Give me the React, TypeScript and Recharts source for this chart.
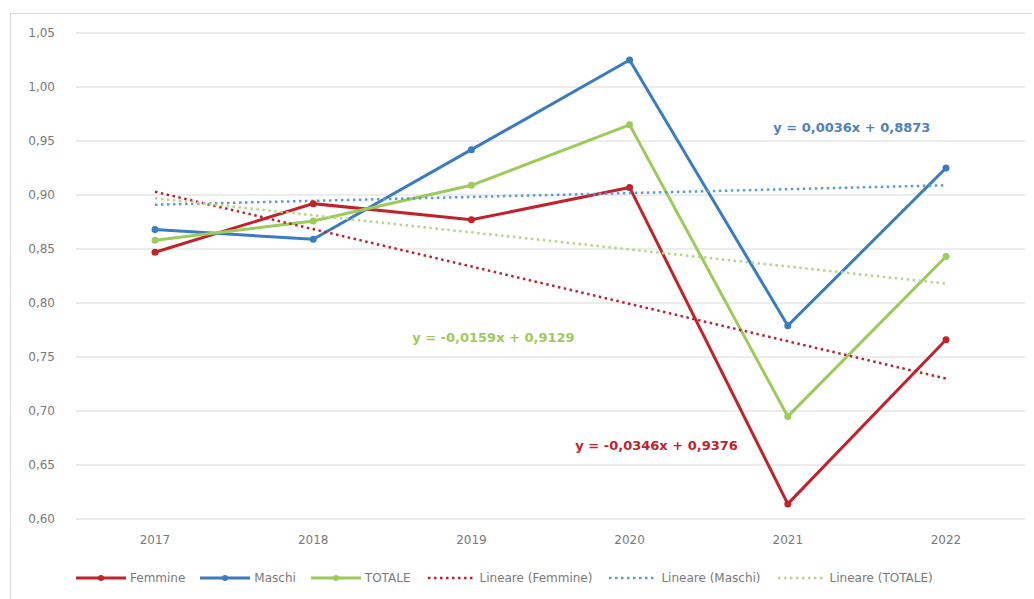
import { LineChart, Line, XAxis, YAxis, ReferenceDot, ReferenceLine } from 'recharts'

const years = ['2017', '2018', '2019', '2020', '2021', '2022']
const femmine = [0.847, 0.892, 0.877, 0.907, 0.614, 0.766]
const maschi = [0.868, 0.859, 0.942, 1.025, 0.779, 0.925]
const totale = [0.858, 0.876, 0.909, 0.965, 0.695, 0.843]

// trend lines: only first and last year, line drawn between them
const trendFemmine = [0.903, null, null, null, null, 0.730]
const trendMaschi = [0.891, null, null, null, null, 0.909]
const trendTotale = [0.897, null, null, null, null, 0.818]

const yTicks = [0.6, 0.65, 0.7, 0.75, 0.8, 0.85, 0.9, 0.95, 1.0, 1.05]

const RED = '#C0232C'
const BLUE = '#3A7CBF'
const GREEN = '#9CCB5C'

const series = [
  { key: 'femmine', name: 'Femmine', color: RED, dotted: false },
  { key: 'maschi', name: 'Maschi', color: BLUE, dotted: false },
  { key: 'totale', name: 'TOTALE', color: GREEN, dotted: false },
  { key: 'trendFemmine', name: 'Lineare (Femmine)', color: '#B5242E', dotted: true },
  { key: 'trendMaschi', name: 'Lineare (Maschi)', color: '#5B9BD5', dotted: true },
  { key: 'trendTotale', name: 'Lineare (TOTALE)', color: '#B5D68A', dotted: true },
]

const data = years.map((year, i) => ({
  year,
  femmine: femmine[i],
  maschi: maschi[i],
  totale: totale[i],
  trendFemmine: trendFemmine[i],
  trendMaschi: trendMaschi[i],
  trendTotale: trendTotale[i],
}))

const FONT = '"DejaVu Sans", sans-serif'
const fmt = (v: number) => v.toFixed(2).replace('.', ',')

const ChartLegend = () => (
  <div
    style={{
      position: 'absolute',
      left: 65,
      top: 555,
      display: 'flex',
      alignItems: 'center',
      height: 18,
      fontFamily: FONT,
      fontSize: 12,
      color: '#7a7a7a',
    }}
  >
    {series.map((s) => (
      <div key={s.key} style={{ display: 'flex', alignItems: 'center', marginRight: 15 }}>
        <svg width={50} height={10} style={{ marginRight: 4 }}>
          {s.dotted ? (
            <line x1={2} y1={5} x2={48} y2={5} stroke={s.color} strokeWidth={2.5} strokeDasharray="2.5 3.5" />
          ) : (
            <>
              <line x1={0} y1={5} x2={50} y2={5} stroke={s.color} strokeWidth={3} />
              <circle cx={25} cy={5} r={3} fill={s.color} />
            </>
          )}
        </svg>
        <span>{s.name}</span>
      </div>
    ))}
  </div>
)

const eqLabel = (text: string, color: string, dx = 0) => (props: any) => {
  const { viewBox } = props
  const cx = viewBox.x + viewBox.width / 2 + dx
  const cy = viewBox.y + viewBox.height / 2
  return (
    <text x={cx} y={cy} dy="0.35em" textAnchor="middle" fill={color} fontFamily={FONT} fontSize={13} fontWeight="bold">
      {text}
    </text>
  )
}

export default function App() {
  return (
    <div
      style={{
        position: 'absolute',
        left: 10,
        top: 13,
        width: 1021,
        height: 585,
        borderLeft: '1px solid #d9d9d9',
        borderTop: '1px solid #d9d9d9',
        background: '#fff',
      }}
    >
      <LineChart width={1021} height={585} data={data} margin={{ top: 19, right: 7, bottom: 50, left: 0 }}>
        <XAxis
          dataKey="year"
          padding={{ left: 79, right: 79 }}
          axisLine={false}
          tickLine={false}
          tickSize={0}
          tickMargin={16}
          height={30}
          tick={{ fontFamily: FONT, fontSize: 12, fill: '#7a7a7a' }}
        />
        <YAxis
          domain={[0.6, 1.05]}
          ticks={yTicks}
          tickFormatter={fmt}
          axisLine={false}
          tickLine={false}
          tickSize={0}
          tickMargin={21}
          width={65}
          tick={{ fontFamily: FONT, fontSize: 12, fill: '#7a7a7a' }}
        />
        {yTicks.map((t) => (
          <ReferenceLine key={t} y={t} stroke="#d9d9d9" strokeWidth={1} />
        ))}
        {series.map((s) =>
          s.dotted ? (
            <Line
              key={s.key}
              dataKey={s.key}
              name={s.name}
              stroke={s.color}
              strokeWidth={2.5}
              strokeDasharray="2.5 3.5"
              dot={false}
              activeDot={false}
              connectNulls
              isAnimationActive={false}
            />
          ) : (
            <Line
              key={s.key}
              dataKey={s.key}
              name={s.name}
              stroke={s.color}
              strokeWidth={3}
              dot={{ r: 3.5, fill: s.color, stroke: s.color, strokeWidth: 0 }}
              activeDot={false}
              isAnimationActive={false}
            />
          ),
        )}
        <ReferenceDot x="2021" y={0.963} r={0} label={eqLabel('y = 0,0036x + 0,8873', '#4F81BD', 64)} />
        <ReferenceDot x="2019" y={0.768} r={0} label={eqLabel('y = -0,0159x + 0,9129', GREEN, 22)} />
        <ReferenceDot x="2020" y={0.6685} r={0} label={eqLabel('y = -0,0346x + 0,9376', RED, 27)} />
      </LineChart>
      {/* keep the strip between year labels and legend blank */}
      <div style={{ position: 'absolute', left: 55, top: 537, width: 965, height: 16, background: '#fff' }} />
      <ChartLegend />
    </div>
  )
}
